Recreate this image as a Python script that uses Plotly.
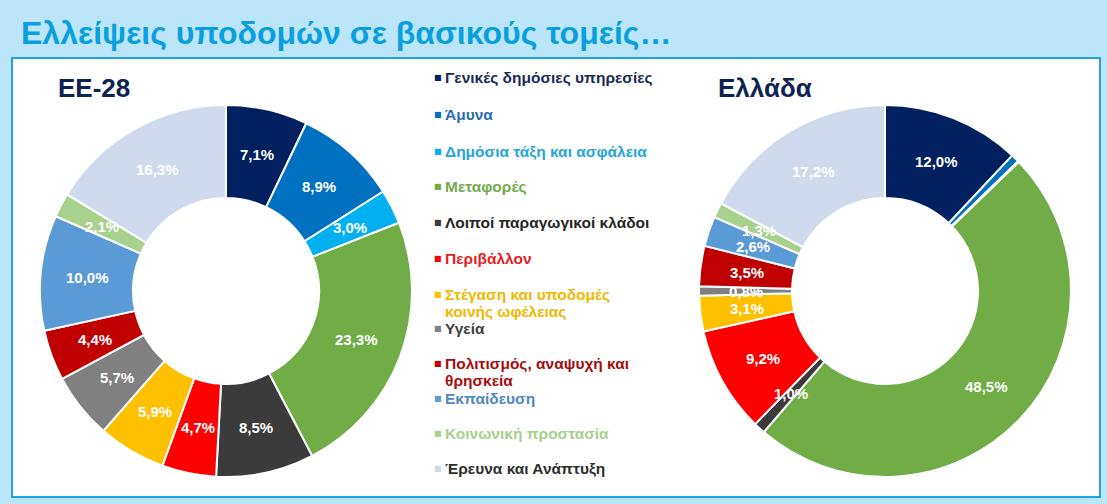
import math
import plotly.graph_objects as go

W, H = 1107, 504

categories = [
    "Γενικές δημόσιες υπηρεσίες",
    "Άμυνα",
    "Δημόσια τάξη και ασφάλεια",
    "Μεταφορές",
    "Λοιποί παραγωγικοί κλάδοι",
    "Περιβάλλον",
    "Στέγαση και υποδομές<br>κοινής ωφέλειας",
    "Υγεία",
    "Πολιτισμός, αναψυχή και<br>θρησκεία",
    "Εκπαίδευση",
    "Κοινωνική προστασία",
    "Έρευνα και Ανάπτυξη",
]
ee28_values = [7.1, 8.9, 3.0, 23.3, 8.5, 4.7, 5.9, 5.7, 4.4, 10.0, 2.1, 16.3]
greece_values = [12.0, 0.7, 0.1, 48.5, 1.0, 9.2, 3.1, 0.8, 3.5, 2.6, 1.3, 17.2]
greece_show = [True, False, False, True, True, True, True, True, True, True, True, True]

slice_colors = ["#002060", "#0070c0", "#00b0f0", "#70ad47", "#3b3b3b", "#ff0000",
                "#ffc000", "#808080", "#c00000", "#5b9bd5", "#a9d18e", "#cfdbed"]
legend_text_colors = ["#1b2a55", "#2a6db5", "#1fa6dc", "#74ab4c", "#262626", "#e41f1f",
                      "#f0b800", "#404040", "#a50d0d", "#4f86c0", "#a8cf8c", "#2e2e2e"]
legend_first_line_px = [77, 115, 151, 186, 222, 258, 294, 328, 363, 398, 433, 468]
LINE_STEP = 17
HOLE = 0.5
LABEL_R = (1 + HOLE) / 2


def fmt(v):
    return "<b>" + f"{v:.1f}".replace(".", ",") + "%</b>"


def px_x(x):
    return x / W


def px_y(y):
    return 1 - y / H


fig = go.Figure()
annotations = []

pies = [
    (ee28_values, [True] * len(ee28_values), 40, 412, "x", "y"),
    (greece_values, greece_show, 699, 1071, "x2", "y2"),
]
for vals, show, x0, x1, xa, ya in pies:
    dom_x = [px_x(x0), px_x(x1)]
    dom_y = [px_y(477), px_y(105)]
    fig.add_trace(go.Pie(
        labels=categories, values=vals, sort=False, direction="clockwise", rotation=0,
        hole=HOLE, marker=dict(colors=slice_colors, line=dict(color="white", width=2)),
        textinfo="none", domain=dict(x=dom_x, y=dom_y), showlegend=False,
        hoverinfo="label+percent",
    ))
    # value labels at mid-ring, placed on hidden unit axes that cover the donut
    total = sum(vals)
    cum = 0.0
    for v, s in zip(vals, show):
        ang = 2 * math.pi * (cum + v / 2) / total
        cum += v
        if not s:
            continue
        annotations.append(dict(
            text=fmt(v), x=LABEL_R * math.sin(ang), y=LABEL_R * math.cos(ang),
            xref=xa, yref=ya, xanchor="center", yanchor="middle", showarrow=False,
            font=dict(family="Liberation Sans, Arial", size=15, color="white"),
        ))
    axis_common = dict(range=[-1, 1], visible=False, fixedrange=True)
    suffix = "" if xa == "x" else "2"
    fig.update_layout(**{
        f"xaxis{suffix}": dict(domain=dom_x, anchor=ya, **axis_common),
        f"yaxis{suffix}": dict(domain=dom_y, anchor=xa, **axis_common),
    })

annotations.append(dict(
    text="<b>Ελλείψεις υποδομών σε βασικούς τομείς…</b>", x=px_x(19), y=px_y(33),
    xref="paper", yref="paper", xanchor="left", yanchor="middle", showarrow=False,
    font=dict(family="Liberation Sans, Arial", size=32, color="#0a9fde"),
))
annotations.append(dict(
    text="<b>EE-28</b>", x=px_x(56), y=px_y(88), xref="paper", yref="paper",
    xanchor="left", yanchor="middle", showarrow=False,
    font=dict(family="Liberation Sans, Arial", size=26, color="#0f2350"),
))
annotations.append(dict(
    text="<b>Ελλάδα</b>", x=px_x(716), y=px_y(88), xref="paper", yref="paper",
    xanchor="left", yanchor="middle", showarrow=False,
    font=dict(family="Liberation Sans, Arial", size=26, color="#0f2350"),
))

for cat, mc, tc, y1 in zip(categories, slice_colors, legend_text_colors, legend_first_line_px):
    for i, line in enumerate(cat.split("<br>")):
        annotations.append(dict(
            text=f"<b>{line}</b>", x=px_x(443), y=px_y(y1 + i * LINE_STEP),
            xref="paper", yref="paper", xanchor="left", yanchor="middle", align="left",
            showarrow=False,
            font=dict(family="Liberation Sans, Arial", size=15.5, color=tc),
        ))
    annotations.append(dict(
        text="■", x=px_x(438), y=px_y(y1), xref="paper", yref="paper",
        xanchor="center", yanchor="middle", showarrow=False,
        font=dict(family="DejaVu Sans", size=8, color=mc),
    ))

fig.update_layout(
    width=W, height=H,
    margin=dict(l=0, r=0, t=0, b=0),
    paper_bgcolor="#bbe5f8",
    plot_bgcolor="rgba(0,0,0,0)",
    annotations=annotations,
    shapes=[dict(
        type="rect", xref="paper", yref="paper",
        x0=px_x(12), x1=px_x(1100), y0=px_y(497), y1=px_y(58),
        fillcolor="white", line=dict(color="#1fa5dc", width=2), layer="below",
    )],
)

fig.write_html(
    "out.html",
    config={"displayModeBar": False},
    post_script="document.body.style.margin='0';document.body.style.padding='0';"
                "document.body.style.overflow='hidden';",
)
